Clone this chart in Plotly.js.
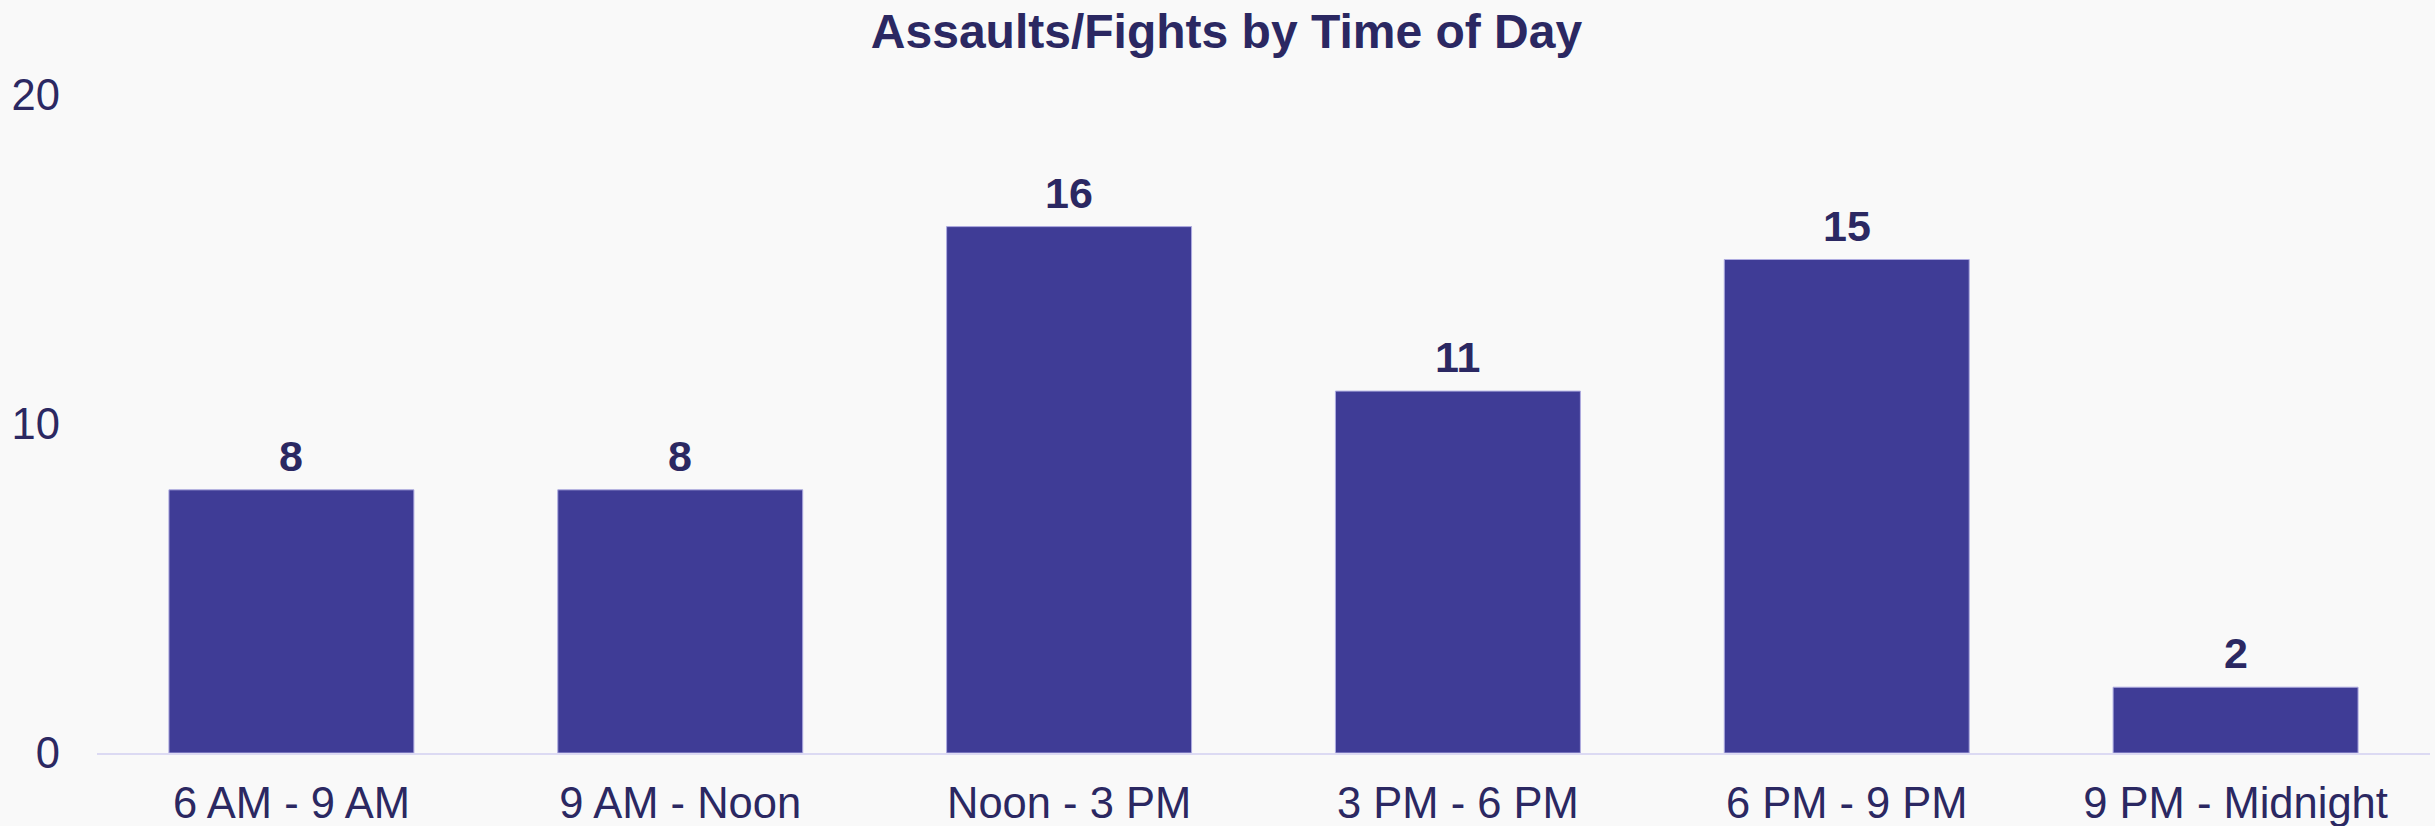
<!DOCTYPE html>
<html>
<head>
<meta charset="utf-8">
<script src="https://cdn.plot.ly/plotly-3.0.1.min.js"></script>
<style>html,body{margin:0;padding:0;background:#f9f9f9;}#chart{width:2435px;height:826px;}</style>
</head>
<body>
<div id="chart"></div>
<script>
const categories = ["6 AM - 9 AM", "9 AM - Noon", "Noon - 3 PM", "3 PM - 6 PM", "6 PM - 9 PM", "9 PM - Midnight"];
const counts = [8, 8, 16, 11, 15, 2];
const yTicks = [0, 10, 20];

const textColor = "#2b2862";
const barColor = "#3f3c96";

const trace = {
  type: "bar",
  x: categories,
  y: counts,
  marker: { color: barColor, line: { color: "#aeabe0", width: 1 } },
  hoverinfo: "x+y"
};

const annotations = categories.map((c, i) => ({
  x: c, y: counts[i], xref: "x", yref: "y",
  text: "<b>" + String(counts[i]) + "</b>", showarrow: false,
  yanchor: "bottom", yshift: 8,
  font: { family: "Liberation Sans, Arial, sans-serif", size: 43, color: textColor }
}));

const layout = {
  width: 2435, height: 826,
  paper_bgcolor: "#f9f9f9", plot_bgcolor: "#f9f9f9",
  margin: { l: 97, r: 5, t: 95, b: 73, pad: 0 },
  bargap: 0.37,
  title: {
    text: "<b>Assaults/Fights by Time of Day</b>",
    x: 0.5037, xanchor: "center", y: 0.962, yanchor: "middle",
    font: { family: "Liberation Sans, Arial, sans-serif", size: 48, color: textColor }
  },
  font: { family: "Liberation Sans, Arial, sans-serif", size: 43.5, color: textColor },
  xaxis: {
    type: "category",
    showline: true, linecolor: "#dcdaf3", linewidth: 2,
    showgrid: false, ticks: "", ticklabelstandoff: 11,
    tickfont: { size: 43.5, color: textColor }
  },
  yaxis: {
    range: [0, 20], tickvals: yTicks, ticktext: yTicks.map(String),
    showgrid: false, zeroline: false, showline: false, ticks: "",
    ticklabelstandoff: 36,
    tickfont: { size: 43.5, color: textColor }
  },
  annotations: annotations,
  showlegend: false
};

Plotly.newPlot("chart", [trace], layout, { displayModeBar: false, staticPlot: true });
</script>
</body>
</html>
